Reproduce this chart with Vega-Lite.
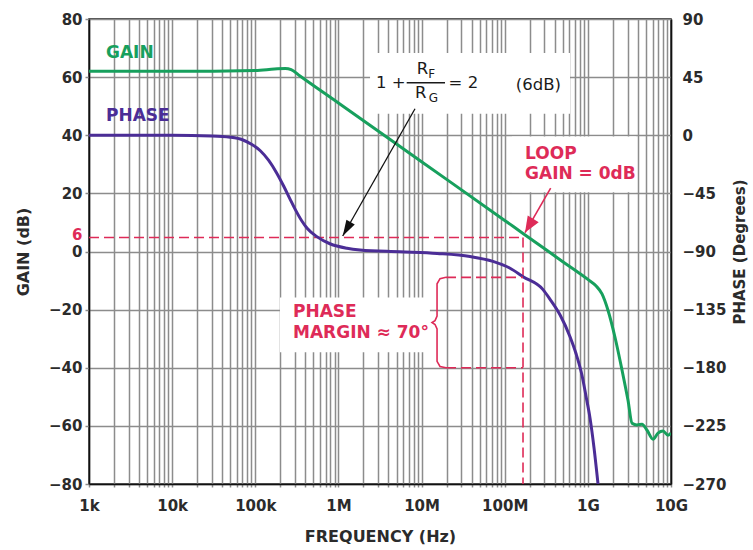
{
  "$schema": "https://vega.github.io/schema/vega-lite/v6.json",
  "width": 582,
  "height": 465,
  "autosize": {"type": "none"},
  "padding": {"left": 89, "top": 19, "right": 82, "bottom": 66},
  "background": "white",
  "config": {
    "view": {"stroke": "#111111", "strokeWidth": 1.5},
    "font": "DejaVu Sans",
    "axis": {
      "labelFont": "DejaVu Sans", "titleFont": "DejaVu Sans",
      "labelFontSize": 15, "labelFontWeight": "bold",
      "titleFontSize": 16, "titleFontWeight": "bold",
      "labelColor": "#2b2b2b", "titleColor": "#2b2b2b",
      "domainColor": "#111111", "domainWidth": 1.5,
      "gridColor": "#8c8c8c", "gridWidth": 1.5, "gridOpacity": 1,
      "tickColor": "#8c8c8c", "tickWidth": 1.5,
      "labelOverlap": false, "labelFlush": false
    }
  },
  "datasets": {
    "boxes": [
      {"f": 2400000, "f2": 610000000, "g": 68.3, "g2": 47.4},
      {"f": 122000000, "f2": 3790000000, "g": 39.6, "g2": 20.4},
      {"f": 198000, "f2": 12600000, "g": -15.8, "g2": -34.7}
    ],
    "gain": [
      {"f": 1000, "g": 62}, {"f": 10000, "g": 62}, {"f": 100000, "g": 62.3},
      {"f": 170000, "g": 62.8}, {"f": 230000, "g": 63}, {"f": 270000, "g": 62.6},
      {"f": 345000, "g": 60.4}, {"f": 1000000, "g": 51.1}, {"f": 10000000, "g": 30.9},
      {"f": 100000000, "g": 10.7}, {"f": 166000000, "g": 6.2}, {"f": 500000000, "g": -3.5},
      {"f": 1000000000, "g": -9.6}, {"f": 1250000000, "g": -11.8}, {"f": 1480000000, "g": -14.6},
      {"f": 1750000000, "g": -20.3},
      {"f": 2120000000, "g": -29.5}, {"f": 2580000000, "g": -40.9}, {"f": 3040000000, "g": -51.2},
      {"f": 3400000000, "g": -59.1}, {"f": 3900000000, "g": -59.7}, {"f": 4480000000, "g": -59.4},
      {"f": 5150000000, "g": -61.5}, {"f": 6080000000, "g": -64.6}, {"f": 6980000000, "g": -62.5},
      {"f": 8020000000, "g": -61.8}, {"f": 9200000000, "g": -63.2}, {"f": 10000000000, "g": -62.5}
    ],
    "phase": [
      {"f": 1000, "p": 0}, {"f": 10000, "p": 0}, {"f": 30000, "p": -0.5}, {"f": 50000, "p": -1.5},
      {"f": 70000, "p": -3.5}, {"f": 90000, "p": -7}, {"f": 115000, "p": -12}, {"f": 145000, "p": -19.5},
      {"f": 180000, "p": -29}, {"f": 220000, "p": -39.5}, {"f": 260000, "p": -49}, {"f": 300000, "p": -57},
      {"f": 360000, "p": -66}, {"f": 420000, "p": -72}, {"f": 550000, "p": -78.5}, {"f": 790000, "p": -84},
      {"f": 1270000, "p": -87.5}, {"f": 1820000, "p": -88.8}, {"f": 5500000, "p": -90.2}, {"f": 15400000, "p": -91.5},
      {"f": 38300000, "p": -93.9}, {"f": 72300000, "p": -97.7}, {"f": 116000000, "p": -103},
      {"f": 166000000, "p": -109.5}, {"f": 289000000, "p": -119.5}, {"f": 351000000, "p": -127},
      {"f": 462000000, "p": -139}, {"f": 610000000, "p": -156}, {"f": 720000000, "p": -169},
      {"f": 851000000, "p": -186}, {"f": 950000000, "p": -202}, {"f": 1062000000, "p": -219},
      {"f": 1186000000, "p": -242}, {"f": 1325000000, "p": -270}
    ],
    "gainGuides": [
      {"f": 1000, "f2": 166000000, "g": 4.8, "g2": 4.8},
      {"f": 166000000, "f2": 166000000, "g": 4.8, "g2": -80}
    ],
    "phaseGuides": [
      {"f": 19680000, "f2": 166000000, "p": -110},
      {"f": 19680000, "f2": 166000000, "p": -180}
    ],
    "brace": [
      {"o": 1, "f": 19680000, "p": -110}, {"o": 2, "f": 16670000, "p": -111},
      {"o": 3, "f": 15350000, "p": -115}, {"o": 4, "f": 15350000, "p": -140},
      {"o": 5, "f": 14520000, "p": -143.5}, {"o": 6, "f": 13350000, "p": -145},
      {"o": 7, "f": 14520000, "p": -146.5}, {"o": 8, "f": 15350000, "p": -150},
      {"o": 9, "f": 15350000, "p": -175}, {"o": 10, "f": 16670000, "p": -179},
      {"o": 11, "f": 19680000, "p": -180}
    ],
    "blackArrow": [{"f": 8340000, "g": 49.1, "f2": 1126000, "g2": 5.35}],
    "redArrow": [{"f": 357000000, "g": 21.8, "f2": 175500000, "g2": 6.5}],
    "fractionBar": [{"f": 6620000, "f2": 19140000, "g": 58.1}],
    "gainLabel": [{"f": 1601, "g": 68.3, "t": "GAIN"}],
    "phaseLabel": [{"f": 1601, "g": 46.6, "t": "PHASE"}],
    "equation": [
      {"f": 4270000, "g": 58.0, "t": "1 +"},
      {"f": 10260000, "g": 62.7, "t": "R"},
      {"f": 9790000, "g": 54.5, "t": "R"},
      {"f": 31800000, "g": 58.0, "t": "= 2"},
      {"f": 253500000, "g": 57.3, "t": "(6dB)"}
    ],
    "subscripts": [
      {"f": 13240000, "g": 61.1, "t": "F"},
      {"f": 13840000, "g": 52.7, "t": "G"}
    ],
    "redNotes": [
      {"f": 175500000, "g": 33.5, "t": "LOOP"},
      {"f": 175500000, "g": 26.7, "t": "GAIN = 0dB"},
      {"f": 284300, "g": -20.8, "t": "PHASE"},
      {"f": 284300, "g": -28.2, "t": "MARGIN ≈ 70°"}
    ]
  },
  "layer": [
    {
      "layer": [
        {
          "data": {"name": "boxes"},
          "mark": {"type": "rect", "color": "white", "strokeWidth": 0},
          "encoding": {
            "x": {
              "field": "f", "type": "quantitative",
              "scale": {"type": "log", "domain": [1000, 10000000000], "nice": false},
              "axis": {
                "orient": "bottom",
                "values": [1000,2000,3000,4000,5000,6000,7000,8000,9000,
                  10000,20000,30000,40000,50000,60000,70000,80000,90000,
                  100000,200000,300000,400000,500000,600000,700000,800000,900000,
                  1000000,2000000,3000000,4000000,5000000,6000000,7000000,8000000,9000000,
                  10000000,20000000,30000000,40000000,50000000,60000000,70000000,80000000,90000000,
                  100000000,200000000,300000000,400000000,500000000,600000000,700000000,800000000,900000000,
                  1000000000,2000000000,3000000000,4000000000,5000000000,6000000000,7000000000,8000000000,9000000000,
                  10000000000],
                "labelExpr": "datum.value == 1000 ? '1k' : datum.value == 10000 ? '10k' : datum.value == 100000 ? '100k' : datum.value == 1000000 ? '1M' : datum.value == 10000000 ? '10M' : datum.value == 100000000 ? '100M' : datum.value == 1000000000 ? '1G' : datum.value == 10000000000 ? '10G' : ''",
                "title": "FREQUENCY (Hz)",
                "grid": true,
                "tickSize": 3,
                "labelPadding": 11,
                "titlePadding": 15
              }
            },
            "x2": {"field": "f2"},
            "y": {
              "field": "g", "type": "quantitative",
              "scale": {"domain": [-80, 80], "nice": false, "zero": false},
              "axis": {
                "orient": "left",
                "values": [-80, -60, -40, -20, 0, 6, 20, 40, 60, 80],
                "title": "GAIN (dB)",
                "grid": true,
                "tickSize": 4,
                "labelPadding": 3,
                "titlePadding": 17,
                "gridOpacity": {"condition": {"test": "datum.value == 6", "value": 0}, "value": 1},
                "tickOpacity": {"condition": {"test": "datum.value == 6", "value": 0}, "value": 1},
                "labelColor": {"condition": {"test": "datum.value == 6", "value": "#de2b58"}, "value": "#2b2b2b"}
              }
            },
            "y2": {"field": "g2"}
          }
        },
        {
          "data": {"name": "gainGuides"},
          "mark": {"type": "rule", "color": "#de2b58", "strokeWidth": 1.6, "strokeDash": [10, 5]},
          "encoding": {
            "x": {"field": "f", "type": "quantitative", "scale": {"type": "log", "domain": [1000, 10000000000], "nice": false}},
            "x2": {"field": "f2"},
            "y": {"field": "g", "type": "quantitative", "scale": {"domain": [-80, 80], "nice": false, "zero": false}},
            "y2": {"field": "g2"}
          }
        },
        {
          "data": {"name": "gain"},
          "mark": {"type": "line", "color": "#17a05d", "strokeWidth": 3, "interpolate": "monotone", "clip": true},
          "encoding": {
            "x": {"field": "f", "type": "quantitative", "scale": {"type": "log", "domain": [1000, 10000000000], "nice": false}},
            "y": {"field": "g", "type": "quantitative", "scale": {"domain": [-80, 80], "nice": false, "zero": false}}
          }
        },
        {
          "data": {"name": "blackArrow"},
          "mark": {"type": "rule", "color": "#111111", "strokeWidth": 1.3},
          "encoding": {
            "x": {"field": "f", "type": "quantitative", "scale": {"type": "log", "domain": [1000, 10000000000], "nice": false}},
            "x2": {"field": "f2"},
            "y": {"field": "g", "type": "quantitative", "scale": {"domain": [-80, 80], "nice": false, "zero": false}},
            "y2": {"field": "g2"}
          }
        },
        {
          "data": {"name": "blackArrow"},
          "mark": {"type": "point", "shape": "M0,0 L-0.3,1 L0.3,1 Z", "size": 1024, "angle": 209.5, "filled": true, "color": "#111111", "opacity": 1, "strokeWidth": 0},
          "encoding": {
            "x": {"field": "f2", "type": "quantitative", "scale": {"type": "log", "domain": [1000, 10000000000], "nice": false}},
            "y": {"field": "g2", "type": "quantitative", "scale": {"domain": [-80, 80], "nice": false, "zero": false}}
          }
        },
        {
          "data": {"name": "redArrow"},
          "mark": {"type": "rule", "color": "#de2b58", "strokeWidth": 1.6},
          "encoding": {
            "x": {"field": "f", "type": "quantitative", "scale": {"type": "log", "domain": [1000, 10000000000], "nice": false}},
            "x2": {"field": "f2"},
            "y": {"field": "g", "type": "quantitative", "scale": {"domain": [-80, 80], "nice": false, "zero": false}},
            "y2": {"field": "g2"}
          }
        },
        {
          "data": {"name": "redArrow"},
          "mark": {"type": "point", "shape": "M0,0 L-0.4,1 L0.4,1 Z", "size": 1024, "angle": 210.8, "filled": true, "color": "#de2b58", "opacity": 1, "strokeWidth": 0},
          "encoding": {
            "x": {"field": "f2", "type": "quantitative", "scale": {"type": "log", "domain": [1000, 10000000000], "nice": false}},
            "y": {"field": "g2", "type": "quantitative", "scale": {"domain": [-80, 80], "nice": false, "zero": false}}
          }
        },
        {
          "data": {"name": "fractionBar"},
          "mark": {"type": "rule", "color": "#1a1a1a", "strokeWidth": 1.5},
          "encoding": {
            "x": {"field": "f", "type": "quantitative", "scale": {"type": "log", "domain": [1000, 10000000000], "nice": false}},
            "x2": {"field": "f2"},
            "y": {"field": "g", "type": "quantitative", "scale": {"domain": [-80, 80], "nice": false, "zero": false}}
          }
        },
        {
          "data": {"name": "gainLabel"},
          "mark": {"type": "text", "align": "left", "baseline": "middle", "font": "DejaVu Sans", "fontSize": 17, "fontWeight": "bold", "color": "#17a05d"},
          "encoding": {
            "x": {"field": "f", "type": "quantitative", "scale": {"type": "log", "domain": [1000, 10000000000], "nice": false}},
            "y": {"field": "g", "type": "quantitative", "scale": {"domain": [-80, 80], "nice": false, "zero": false}},
            "text": {"field": "t"}
          }
        },
        {
          "data": {"name": "phaseLabel"},
          "mark": {"type": "text", "align": "left", "baseline": "middle", "font": "DejaVu Sans", "fontSize": 17, "fontWeight": "bold", "color": "#4b2d96"},
          "encoding": {
            "x": {"field": "f", "type": "quantitative", "scale": {"type": "log", "domain": [1000, 10000000000], "nice": false}},
            "y": {"field": "g", "type": "quantitative", "scale": {"domain": [-80, 80], "nice": false, "zero": false}},
            "text": {"field": "t"}
          }
        },
        {
          "data": {"name": "equation"},
          "mark": {"type": "text", "align": "center", "baseline": "middle", "font": "DejaVu Sans", "fontSize": 16.5, "color": "#1a1a1a"},
          "encoding": {
            "x": {"field": "f", "type": "quantitative", "scale": {"type": "log", "domain": [1000, 10000000000], "nice": false}},
            "y": {"field": "g", "type": "quantitative", "scale": {"domain": [-80, 80], "nice": false, "zero": false}},
            "text": {"field": "t"}
          }
        },
        {
          "data": {"name": "subscripts"},
          "mark": {"type": "text", "align": "center", "baseline": "middle", "font": "DejaVu Sans", "fontSize": 12, "color": "#1a1a1a"},
          "encoding": {
            "x": {"field": "f", "type": "quantitative", "scale": {"type": "log", "domain": [1000, 10000000000], "nice": false}},
            "y": {"field": "g", "type": "quantitative", "scale": {"domain": [-80, 80], "nice": false, "zero": false}},
            "text": {"field": "t"}
          }
        },
        {
          "data": {"name": "redNotes"},
          "mark": {"type": "text", "align": "left", "baseline": "middle", "font": "DejaVu Sans", "fontSize": 17, "fontWeight": "bold", "color": "#de2b58"},
          "encoding": {
            "x": {"field": "f", "type": "quantitative", "scale": {"type": "log", "domain": [1000, 10000000000], "nice": false}},
            "y": {"field": "g", "type": "quantitative", "scale": {"domain": [-80, 80], "nice": false, "zero": false}},
            "text": {"field": "t"}
          }
        }
      ]
    },
    {
      "layer": [
        {
          "data": {"name": "phase"},
          "mark": {"type": "line", "color": "#4b2d96", "strokeWidth": 3, "interpolate": "monotone", "clip": true},
          "encoding": {
            "x": {"field": "f", "type": "quantitative", "scale": {"type": "log", "domain": [1000, 10000000000], "nice": false}},
            "y": {
              "field": "p", "type": "quantitative",
              "scale": {"domain": [-270, 90], "nice": false, "zero": false},
              "axis": {
                "orient": "right",
                "values": [-270, -225, -180, -135, -90, -45, 0, 45, 90],
                "title": "PHASE (Degrees)",
                "titleFontSize": 15,
                "grid": false,
                "ticks": false,
                "labelPadding": 11,
                "titleAngle": 270,
                "titleBaseline": "top",
                "titlePadding": 7
              }
            }
          }
        },
        {
          "data": {"name": "phaseGuides"},
          "mark": {"type": "rule", "color": "#de2b58", "strokeWidth": 1.6, "strokeDash": [10, 5]},
          "encoding": {
            "x": {"field": "f", "type": "quantitative", "scale": {"type": "log", "domain": [1000, 10000000000], "nice": false}},
            "x2": {"field": "f2"},
            "y": {"field": "p", "type": "quantitative", "scale": {"domain": [-270, 90], "nice": false, "zero": false}}
          }
        },
        {
          "data": {"name": "brace"},
          "mark": {"type": "line", "color": "#de2b58", "strokeWidth": 1.6},
          "encoding": {
            "x": {"field": "f", "type": "quantitative", "scale": {"type": "log", "domain": [1000, 10000000000], "nice": false}},
            "y": {"field": "p", "type": "quantitative", "scale": {"domain": [-270, 90], "nice": false, "zero": false}},
            "order": {"field": "o", "type": "quantitative"}
          }
        }
      ]
    }
  ],
  "resolve": {"scale": {"y": "independent"}, "axis": {"y": "independent"}}
}
